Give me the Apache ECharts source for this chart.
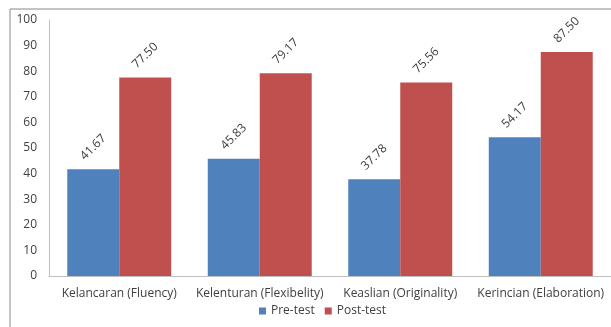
<!DOCTYPE html>
<html>
<head>
<meta charset="utf-8">
<title>ECharts</title>
<script src="https://cdn.jsdelivr.net/npm/echarts@6/dist/echarts.min.js"></script>
</head>
<body style="margin:0">
<div id="main" style="height:327px;width:611px;"></div>
<script type="text/javascript">
var categories = ['Kelancaran (Fluency)', 'Kelenturan (Flexibelity)', 'Keaslian (Originality)', 'Kerincian (Elaboration)'];
var preTest = [41.67, 45.83, 37.78, 54.17];
var postTest = [77.50, 79.17, 75.56, 87.50];

var myChart = echarts.init(document.getElementById('main'));

var labelStyle = {
    show: true,
    position: 'top',
    rotate: 45,
    align: 'center',
    verticalAlign: 'middle',
    distance: 22,
    color: '#404040',
    fontSize: 12,
    fontFamily: 'Open Sans',
    formatter: function (p) { return p.value.toFixed(2); }
};

var option = {
    animation: false,
    textStyle: { fontFamily: 'Open Sans' },
    graphic: [{
        type: 'rect',
        shape: { x: 10, y: 9, width: 700, height: 400 },
        style: { fill: 'none', stroke: '#888', lineWidth: 1 }
    }],
    grid: { left: 49, right: 0, top: 20, bottom: 51 },
    legend: {
        bottom: 5,
        left: 254,
        itemWidth: 7,
        itemHeight: 7,
        itemGap: 10,
        icon: 'rect',
        textStyle: { color: '#404040', fontSize: 12 },
        data: ['Pre-test', 'Post-test']
    },
    xAxis: {
        type: 'category',
        data: categories,
        axisTick: { show: false },
        axisLine: { lineStyle: { color: '#bfbfbf' } },
        axisLabel: { color: '#404040', fontSize: 12, margin: 12, interval: 0 }
    },
    yAxis: {
        type: 'value',
        min: 0,
        max: 100,
        interval: 10,
        splitLine: { show: false },
        axisLine: { show: true, lineStyle: { color: '#bfbfbf' } },
        axisLabel: { color: '#404040', fontSize: 12, margin: 12 }
    },
    series: [
        {
            name: 'Pre-test',
            type: 'bar',
            data: preTest,
            barGap: '0%',
            barCategoryGap: '26%',
            itemStyle: { color: '#4F81BD' },
            label: labelStyle
        },
        {
            name: 'Post-test',
            type: 'bar',
            data: postTest,
            barGap: '0%',
            barCategoryGap: '26%',
            itemStyle: { color: '#C0504D' },
            label: labelStyle
        }
    ]
};

myChart.setOption(option);
</script>
</body>
</html>
